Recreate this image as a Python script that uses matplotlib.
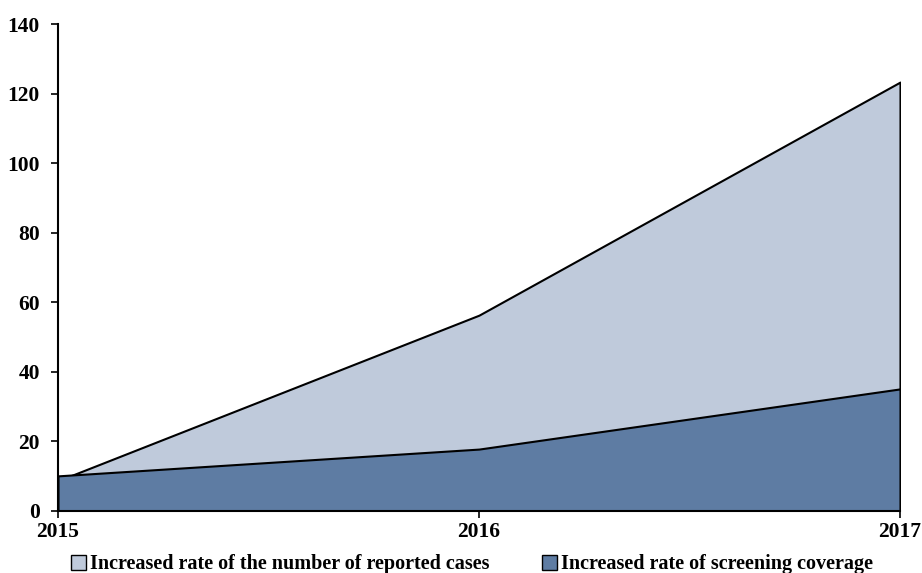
import numpy as np
import matplotlib.pyplot as plt
from matplotlib.patches import Patch

years = ['2015', '2016', '2017']
reported_cases = [8.7, 56.3, 123.3]
screening_coverage = [10.1, 17.8, 35.1]

light = '#BFCADB'
dark = '#5E7CA3'

plt.rcParams['font.family'] = ['Liberation Serif', 'DejaVu Serif']
plt.rcParams['font.weight'] = 'bold'

fig = plt.figure(figsize=(9.22, 5.73), dpi=100)
ax = fig.add_axes([58/922, 1-511/573, (900-58)/922, (511-24)/573])

x = np.arange(len(years))
ax.fill_between(x, 0, reported_cases, facecolor=light, edgecolor='black', lw=1.5)
ax.fill_between(x, 0, screening_coverage, facecolor=dark, edgecolor='black', lw=1.5)

ax.set_xlim(0, 2)
ax.set_ylim(0, 140)
ax.set_xticks(x)
ax.set_xticklabels(years)
ax.set_yticks(range(0, 141, 20))
ax.tick_params(axis='both', labelsize=15.5, direction='out', length=5, width=1.2)
ax.tick_params(axis='y', pad=8)
ax.tick_params(axis='x', pad=3)
for s in ['top', 'right']:
    ax.spines[s].set_visible(False)
for s in ['left', 'bottom']:
    ax.spines[s].set_linewidth(1.5)
for lab in ax.get_xticklabels() + ax.get_yticklabels():
    lab.set_fontweight('bold')

handles = [Patch(facecolor=light, edgecolor='black', lw=1),
           Patch(facecolor=dark, edgecolor='black', lw=1)]
fig.legend(handles, ['Increased rate of the number of reported cases',
                     'Increased rate of screening coverage'],
           loc='lower center', bbox_to_anchor=(0.512, -0.034), ncol=2,
           frameon=False, handlelength=0.75, handleheight=0.75,
           handletextpad=0.2, columnspacing=2.6,
           prop={'weight': 'bold', 'size': 14.5})

fig.savefig('out.png', dpi=100)
